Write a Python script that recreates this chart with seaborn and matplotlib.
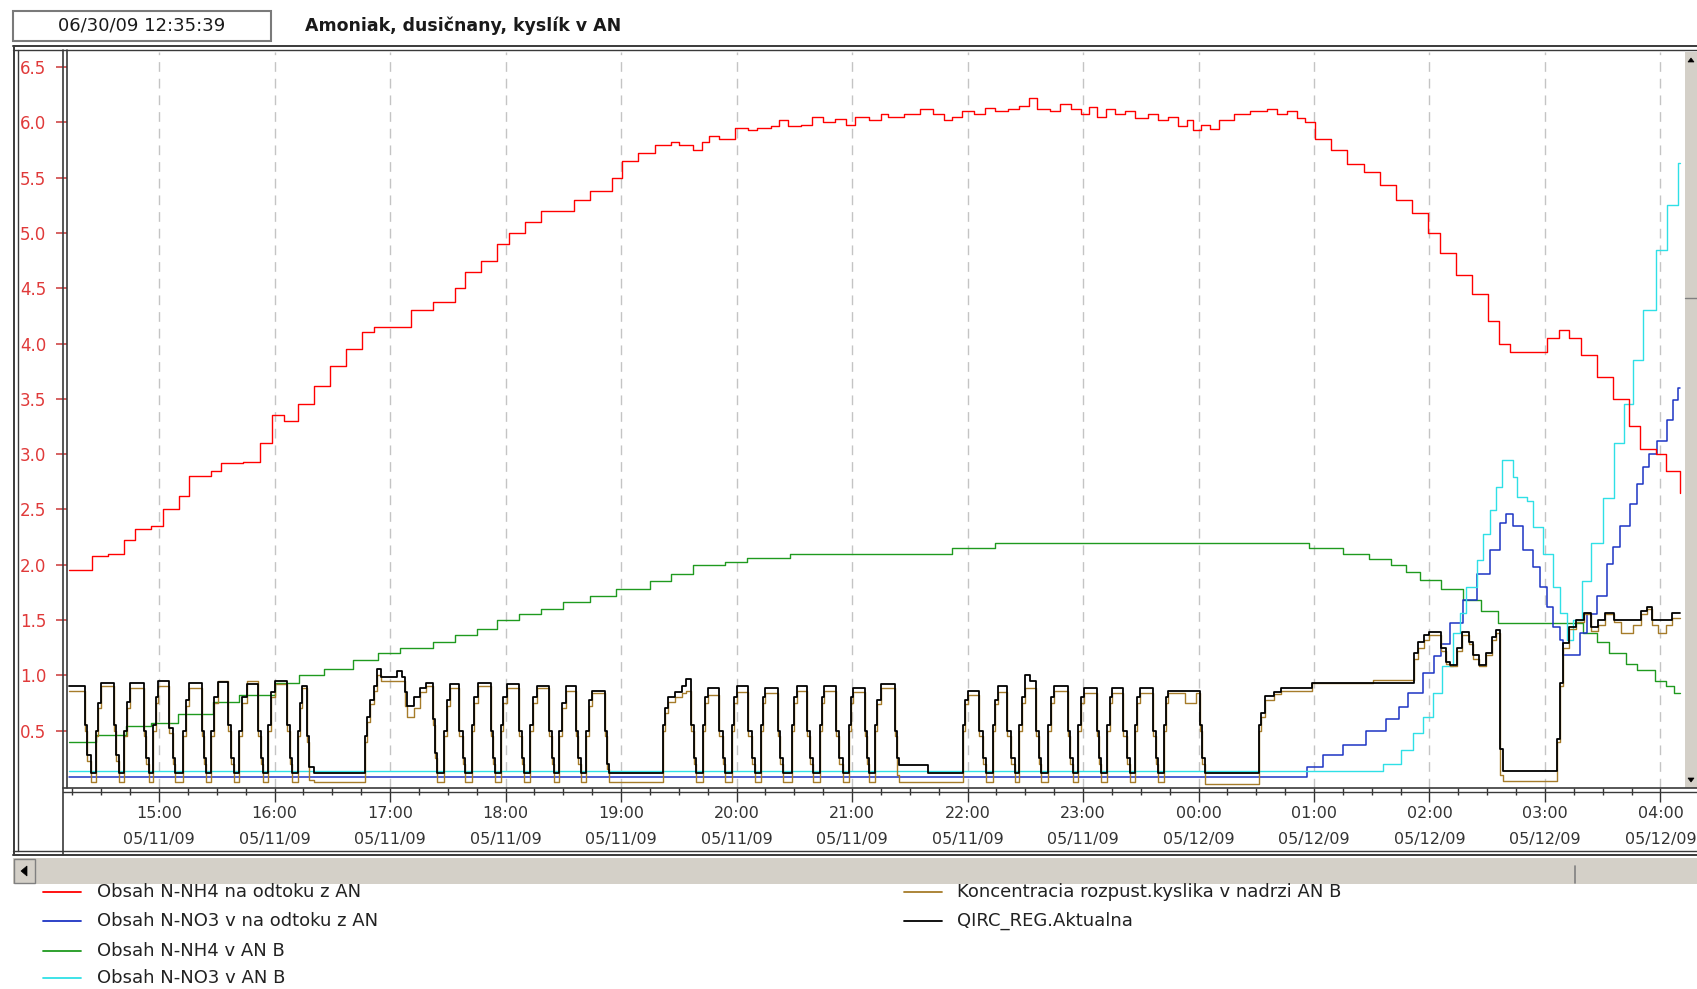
import matplotlib
matplotlib.use("Agg")
import matplotlib.pyplot as plt
from matplotlib.lines import Line2D
from matplotlib.patches import Rectangle, Polygon
import numpy as np
import pandas as pd
import seaborn as sns

# ---------------- data (hours since 2009-05-11 00:00) ----------------
header_time = "06/30/09 12:35:39"
title = "Amoniak, dusičnany, kyslík v AN"

series_names = [
    "Obsah N-NH4 na odtoku z AN",
    "Obsah N-NO3 v na odtoku z AN",
    "Obsah N-NH4 v AN B",
    "Obsah N-NO3 v AN B",
    "Koncentracia rozpust.kyslika v nadrzi AN B",
    "QIRC_REG.Aktualna",
]
series_colors = ["#ff0000", "#1c34c4", "#1f9a1f", "#2fe0e6", "#a67c2a", "#000000"]

nh4_out = [(14.22, 1.95), (14.42, 2.08), (14.56, 2.10), (14.70, 2.22), (14.79, 2.32), (14.93, 2.35),
           (15.03, 2.50), (15.17, 2.62), (15.26, 2.80), (15.45, 2.85), (15.54, 2.92), (15.73, 2.93),
           (15.87, 3.10), (15.98, 3.35), (16.08, 3.30), (16.20, 3.45), (16.34, 3.62), (16.48, 3.80),
           (16.62, 3.95), (16.76, 4.10), (16.86, 4.15), (17.04, 4.15), (17.18, 4.30), (17.37, 4.38),
           (17.56, 4.50), (17.65, 4.65), (17.79, 4.75), (17.93, 4.90), (18.03, 5.00), (18.17, 5.10),
           (18.31, 5.20), (18.45, 5.20), (18.59, 5.30), (18.73, 5.38), (18.92, 5.50), (19.01, 5.65),
           (19.15, 5.72), (19.29, 5.80), (19.43, 5.82), (19.50, 5.80), (19.62, 5.75), (19.70, 5.82),
           (19.76, 5.88), (19.85, 5.85), (19.99, 5.95), (20.10, 5.93), (20.18, 5.95), (20.30, 5.97),
           (20.37, 6.02), (20.45, 5.97), (20.56, 5.98), (20.65, 6.05), (20.75, 6.00), (20.85, 6.03),
           (20.95, 5.98), (21.03, 6.05), (21.15, 6.02), (21.25, 6.08), (21.31, 6.05), (21.45, 6.08),
           (21.59, 6.12), (21.70, 6.08), (21.80, 6.02), (21.87, 6.05), (21.95, 6.10), (22.06, 6.08),
           (22.15, 6.13), (22.24, 6.10), (22.35, 6.12), (22.45, 6.15), (22.53, 6.22), (22.60, 6.12),
           (22.71, 6.10), (22.80, 6.17), (22.90, 6.12), (22.98, 6.08), (23.05, 6.14), (23.12, 6.05),
           (23.20, 6.12), (23.28, 6.08), (23.36, 6.10), (23.45, 6.04), (23.56, 6.08), (23.65, 6.02),
           (23.74, 6.05), (23.82, 5.97), (23.90, 6.02), (23.95, 5.93), (24.02, 5.98), (24.10, 5.94),
           (24.18, 6.02), (24.31, 6.08), (24.45, 6.10), (24.59, 6.12), (24.68, 6.08), (24.77, 6.10),
           (24.85, 6.04), (24.92, 6.00), (25.01, 5.85),
           (25.15, 5.75), (25.29, 5.62), (25.43, 5.55), (25.57, 5.43), (25.71, 5.30), (25.85, 5.18),
           (25.99, 5.00), (26.09, 4.82), (26.23, 4.62), (26.37, 4.45), (26.51, 4.20), (26.60, 4.00),
           (26.70, 3.92), (26.93, 3.92), (27.02, 4.05), (27.12, 4.12), (27.21, 4.05), (27.31, 3.90),
           (27.45, 3.70), (27.59, 3.50), (27.73, 3.25), (27.82, 3.05), (27.96, 3.00), (28.05, 2.85),
           (28.17, 2.65)]

no3_out = [(14.22, 0.08), (24.94, 0.17), (25.08, 0.28), (25.25, 0.37), (25.45, 0.50), (25.62, 0.60),
           (25.74, 0.71), (25.81, 0.84), (25.94, 1.02), (26.04, 1.17), (26.10, 1.28), (26.18, 1.47),
           (26.29, 1.68), (26.41, 1.92), (26.52, 2.13), (26.61, 2.38), (26.66, 2.46), (26.72, 2.35),
           (26.81, 2.13), (26.90, 1.98), (26.96, 1.80), (27.02, 1.62), (27.07, 1.44), (27.13, 1.32),
           (27.16, 1.18), (27.24, 1.18), (27.30, 1.38), (27.36, 1.55), (27.45, 1.72), (27.54, 2.01),
           (27.59, 2.16), (27.65, 2.35), (27.74, 2.55), (27.80, 2.73), (27.85, 2.88), (27.90, 3.00),
           (27.97, 3.12), (28.06, 3.31), (28.11, 3.49), (28.15, 3.60), (28.17, 3.60)]

nh4_b = [(14.22, 0.40), (14.45, 0.46), (14.71, 0.54), (14.93, 0.57), (15.16, 0.65), (15.47, 0.76),
         (15.69, 0.82), (16.00, 0.93), (16.21, 1.00), (16.43, 1.06), (16.68, 1.14), (16.90, 1.20),
         (17.09, 1.25), (17.37, 1.30), (17.56, 1.36), (17.75, 1.42), (17.93, 1.50), (18.12, 1.55),
         (18.31, 1.60), (18.50, 1.66), (18.73, 1.72), (18.96, 1.78), (19.25, 1.85), (19.43, 1.92),
         (19.62, 2.00), (19.90, 2.02), (20.09, 2.06), (20.46, 2.10), (21.87, 2.15), (22.24, 2.20),
         (24.96, 2.15), (25.25, 2.10), (25.48, 2.05), (25.67, 2.00), (25.80, 1.93), (25.92, 1.86),
         (26.10, 1.78), (26.29, 1.68), (26.45, 1.58), (26.59, 1.47), (27.33, 1.38), (27.45, 1.30),
         (27.55, 1.20), (27.70, 1.10), (27.80, 1.05), (27.95, 0.95), (28.05, 0.90), (28.12, 0.84),
         (28.17, 0.84)]

no3_b = [(14.22, 0.13), (25.60, 0.20), (25.75, 0.32), (25.86, 0.48), (25.94, 0.62), (26.03, 0.84),
         (26.11, 1.08), (26.20, 1.38), (26.26, 1.56), (26.32, 1.80), (26.41, 2.04), (26.46, 2.28),
         (26.52, 2.49), (26.58, 2.70), (26.63, 2.95), (26.70, 2.95), (26.72, 2.79), (26.76, 2.61),
         (26.84, 2.58), (26.90, 2.34), (26.98, 2.10), (27.07, 1.80), (27.13, 1.56), (27.19, 1.32),
         (27.24, 1.50), (27.32, 1.85), (27.40, 2.20), (27.50, 2.60), (27.60, 3.10), (27.68, 3.45),
         (27.76, 3.85), (27.85, 4.30), (27.96, 4.85), (28.06, 5.25), (28.15, 5.63), (28.17, 5.63)]

# oxygen (brown) and QIRC (black) share sampling times
do_hours = [
    14.22, 14.36, 14.38, 14.41, 14.45, 14.47, 14.50, 14.61, 14.63, 14.65,
    14.70, 14.72, 14.75, 14.87, 14.89, 14.91, 14.95, 14.97, 14.99, 15.09, 15.12, 15.14,
    15.21, 15.23, 15.26, 15.37, 15.39, 15.41, 15.45, 15.48, 15.51, 15.60, 15.62, 15.65,
    15.69, 15.72, 15.76, 15.86, 15.88, 15.90, 15.94, 15.97, 16.00, 16.11, 16.13, 16.15,
    16.20, 16.22, 16.24, 16.28, 16.30, 16.34,
    16.78, 16.80, 16.83, 16.86, 16.89, 16.92, 17.06, 17.10, 17.13, 17.15, 17.21, 17.26, 17.31,
    17.37, 17.39, 17.41, 17.47, 17.49, 17.52, 17.60, 17.63, 17.65, 17.71, 17.73, 17.76,
    17.87, 17.89, 17.91, 17.96, 17.98, 18.01, 18.12, 18.14, 18.16, 18.21, 18.24, 18.27,
    18.38, 18.40, 18.42, 18.46, 18.49, 18.52, 18.61, 18.63, 18.65, 18.70, 18.72, 18.75,
    18.86, 18.88, 18.90,
    19.36, 19.38, 19.41, 19.47, 19.53, 19.56, 19.61, 19.63, 19.65, 19.71, 19.73, 19.75,
    19.85, 19.88, 19.90, 19.96, 19.98, 20.00, 20.10, 20.13, 20.16, 20.21, 20.23, 20.25,
    20.36, 20.38, 20.40, 20.48, 20.50, 20.52, 20.61, 20.64, 20.66, 20.72, 20.74, 20.76,
    20.86, 20.89, 20.92, 20.97, 20.99, 21.01, 21.11, 21.13, 21.15, 21.20, 21.22, 21.25,
    21.37, 21.39, 21.41, 21.66,
    21.96, 21.98, 22.00, 22.10, 22.13, 22.16, 22.22, 22.24, 22.26, 22.34, 22.38, 22.41,
    22.45, 22.47, 22.50, 22.54, 22.59, 22.62, 22.64, 22.70, 22.72, 22.75, 22.87, 22.89, 22.91,
    22.96, 22.98, 23.01, 23.12, 23.14, 23.16, 23.21, 23.23, 23.25, 23.35, 23.38, 23.41,
    23.45, 23.47, 23.49, 23.61, 23.63, 23.65, 23.70, 23.72, 23.74, 23.88, 23.98, 24.01,
    24.03, 24.06,
    24.52, 24.54, 24.58, 24.65, 24.71, 24.98, 25.51, 25.87, 25.90, 25.95, 26.00, 26.10,
    26.14, 26.18, 26.24, 26.28, 26.34, 26.38, 26.43, 26.49, 26.54, 26.58, 26.61, 26.64,
    27.10, 27.13, 27.16, 27.21, 27.27, 27.34, 27.40, 27.46, 27.52, 27.60, 27.66, 27.76,
    27.83, 27.88, 27.93, 27.98, 28.05, 28.10, 28.17]

qirc_vals = [
    0.90, 0.55, 0.28, 0.12, 0.50, 0.75, 0.93, 0.55, 0.28, 0.12,
    0.50, 0.76, 0.93, 0.50, 0.25, 0.12, 0.55, 0.80, 0.95, 0.52, 0.25, 0.12,
    0.50, 0.78, 0.93, 0.50, 0.25, 0.12, 0.50, 0.80, 0.94, 0.55, 0.25, 0.12,
    0.50, 0.80, 0.92, 0.50, 0.25, 0.12, 0.55, 0.85, 0.95, 0.55, 0.25, 0.12,
    0.50, 0.75, 0.90, 0.45, 0.17, 0.12,
    0.45, 0.62, 0.78, 0.90, 1.06, 0.98, 1.04, 0.98, 0.85, 0.72, 0.80, 0.88, 0.93,
    0.60, 0.30, 0.12, 0.50, 0.78, 0.92, 0.50, 0.25, 0.12, 0.55, 0.80, 0.93,
    0.50, 0.25, 0.12, 0.55, 0.80, 0.92, 0.50, 0.25, 0.12, 0.55, 0.80, 0.90,
    0.50, 0.25, 0.12, 0.50, 0.75, 0.90, 0.50, 0.25, 0.12, 0.50, 0.78, 0.86,
    0.50, 0.20, 0.12,
    0.55, 0.70, 0.80, 0.85, 0.90, 0.97, 0.55, 0.25, 0.12, 0.55, 0.80, 0.88,
    0.50, 0.25, 0.12, 0.55, 0.80, 0.90, 0.50, 0.25, 0.12, 0.55, 0.80, 0.88,
    0.50, 0.25, 0.12, 0.55, 0.80, 0.90, 0.50, 0.25, 0.12, 0.55, 0.80, 0.90,
    0.50, 0.25, 0.12, 0.55, 0.80, 0.88, 0.50, 0.25, 0.12, 0.55, 0.78, 0.92,
    0.50, 0.25, 0.19, 0.12,
    0.55, 0.78, 0.86, 0.50, 0.25, 0.12, 0.55, 0.78, 0.90, 0.50, 0.25, 0.12,
    0.55, 0.80, 1.00, 0.95, 0.50, 0.25, 0.12, 0.55, 0.80, 0.90, 0.50, 0.25, 0.12,
    0.55, 0.80, 0.88, 0.50, 0.25, 0.12, 0.55, 0.80, 0.88, 0.50, 0.25, 0.12,
    0.55, 0.80, 0.88, 0.50, 0.25, 0.12, 0.55, 0.80, 0.86, 0.86, 0.86, 0.55,
    0.25, 0.12,
    0.55, 0.66, 0.81, 0.85, 0.88, 0.93, 0.93, 1.20, 1.30, 1.36, 1.39, 1.25,
    1.12, 1.09, 1.25, 1.39, 1.30, 1.18, 1.09, 1.20, 1.35, 1.41, 0.33, 0.13,
    0.42, 0.93, 1.29, 1.44, 1.50, 1.56, 1.44, 1.50, 1.56, 1.50, 1.50, 1.50,
    1.58, 1.62, 1.50, 1.50, 1.50, 1.56, 1.56]

kyslik_vals = [
    0.86, 0.50, 0.22, 0.03, 0.45, 0.70, 0.90, 0.50, 0.22, 0.03,
    0.45, 0.70, 0.88, 0.45, 0.20, 0.03, 0.50, 0.75, 0.90, 0.48, 0.20, 0.03,
    0.45, 0.72, 0.88, 0.45, 0.20, 0.03, 0.45, 0.75, 0.95, 0.50, 0.20, 0.03,
    0.45, 0.75, 0.95, 0.45, 0.20, 0.03, 0.50, 0.80, 0.92, 0.50, 0.20, 0.03,
    0.45, 0.70, 0.88, 0.40, 0.05, 0.03,
    0.40, 0.58, 0.74, 0.86, 1.00, 0.95, 0.95, 0.95, 0.72, 0.62, 0.70, 0.85, 0.90,
    0.55, 0.25, 0.03, 0.45, 0.72, 0.88, 0.45, 0.20, 0.03, 0.50, 0.75, 0.90,
    0.45, 0.20, 0.03, 0.50, 0.75, 0.88, 0.45, 0.20, 0.03, 0.50, 0.75, 0.88,
    0.45, 0.20, 0.03, 0.45, 0.70, 0.86, 0.45, 0.20, 0.03, 0.45, 0.72, 0.84,
    0.45, 0.15, 0.03,
    0.50, 0.66, 0.76, 0.80, 0.84, 0.86, 0.50, 0.20, 0.03, 0.50, 0.75, 0.82,
    0.45, 0.20, 0.03, 0.50, 0.75, 0.85, 0.45, 0.20, 0.03, 0.50, 0.75, 0.84,
    0.45, 0.20, 0.03, 0.50, 0.75, 0.86, 0.45, 0.20, 0.03, 0.50, 0.75, 0.86,
    0.45, 0.20, 0.03, 0.50, 0.75, 0.85, 0.45, 0.20, 0.03, 0.50, 0.74, 0.88,
    0.45, 0.10, 0.03, 0.03,
    0.50, 0.74, 0.82, 0.45, 0.20, 0.03, 0.50, 0.74, 0.85, 0.45, 0.20, 0.03,
    0.50, 0.75, 0.88, 0.88, 0.45, 0.20, 0.03, 0.50, 0.75, 0.86, 0.45, 0.20, 0.03,
    0.50, 0.75, 0.84, 0.45, 0.20, 0.03, 0.50, 0.75, 0.84, 0.45, 0.20, 0.03,
    0.50, 0.75, 0.84, 0.45, 0.20, 0.03, 0.50, 0.75, 0.84, 0.75, 0.84, 0.50,
    0.20, 0.02,
    0.50, 0.62, 0.78, 0.83, 0.86, 0.93, 0.96, 1.15, 1.25, 1.32, 1.36, 1.22,
    1.10, 1.08, 1.22, 1.36, 1.28, 1.15, 1.08, 1.18, 1.32, 1.38, 0.10, 0.04,
    0.40, 0.90, 1.25, 1.42, 1.48, 1.55, 1.40, 1.45, 1.55, 1.48, 1.38, 1.45,
    1.55, 1.60, 1.45, 1.38, 1.45, 1.52, 1.52]

tick_hours = [15, 16, 17, 18, 19, 20, 21, 22, 23, 24, 25, 26, 27, 28]
tick_labels = ["15:00\n05/11/09", "16:00\n05/11/09", "17:00\n05/11/09", "18:00\n05/11/09",
               "19:00\n05/11/09", "20:00\n05/11/09", "21:00\n05/11/09", "22:00\n05/11/09",
               "23:00\n05/11/09", "00:00\n05/12/09", "01:00\n05/12/09", "02:00\n05/12/09",
               "03:00\n05/12/09", "04:00\n05/12/09"]
ytick_vals = [0.5, 1.0, 1.5, 2.0, 2.5, 3.0, 3.5, 4.0, 4.5, 5.0, 5.5, 6.0, 6.5]
ytick_labels = ["0.5", "1.0", "1.5", "2.0", "2.5", "3.0", "3.5", "4.0", "4.5", "5.0", "5.5", "6.0", "6.5"]

# ---------------- figure ----------------
W, H = 1697, 989
sns.set_style("white")
plt.rcParams['font.family'] = ['DejaVu Sans']

fig = plt.figure(figsize=(W / 100, H / 100), dpi=100)
fig.patch.set_facecolor("white")


def fx(x):
    return x / W


def fy(y):
    return 1 - y / H


ax = fig.add_axes([fx(67), fy(788), (1683 - 67) / W, (788 - 52) / H])
ax.set_facecolor("white")


def draw(pairs, color, lw, z):
    df = pd.DataFrame(pairs, columns=["hour", "value"])
    sns.lineplot(data=df, x="hour", y="value", ax=ax, color=color, linewidth=lw,
                 drawstyle="steps-post", estimator=None, sort=False, zorder=z)


draw(nh4_b, series_colors[2], 1.0, 3)
draw(no3_out, series_colors[1], 1.1, 4)
draw(no3_b, series_colors[3], 1.0, 4)
draw(list(zip(do_hours, kyslik_vals)), series_colors[4], 1.0, 5)
draw(list(zip(do_hours, qirc_vals)), series_colors[5], 1.3, 6)
draw(nh4_out, series_colors[0], 1.0, 7)

ax.set_xlim(14.203, 28.195)
ax.set_ylim(-0.02, 6.637)
ax.set_xlabel("")
ax.set_ylabel("")
for s in ax.spines.values():
    s.set_visible(False)

ax.set_xticks(tick_hours)
ax.set_xticklabels(tick_labels, linespacing=1.9)
ax.set_xticks(np.arange(14.25, 28.2, 0.25), minor=True)
ax.tick_params(axis="x", which="major", length=10, width=1, color="#333333", pad=3,
               labelsize=11.5, labelcolor="#333333", direction="out", bottom=True)
ax.tick_params(axis="x", which="minor", length=5, width=1, color="#333333", bottom=True)
ax.set_yticks(ytick_vals)
ax.set_yticklabels(ytick_labels)
ax.tick_params(axis="y", length=8, width=1.2, color="#d04848", pad=7, labelsize=12,
               labelcolor="#e03a3a", direction="out", left=True)
ax.grid(axis="x", which="major", color="#c4c4c4", linestyle=(0, (7, 5)), linewidth=1)
ax.grid(axis="y", visible=False)
ax.set_axisbelow(True)

# ---------------- frame decorations ----------------
fc = "#3a3a3a"


def hline(y, x0, x1, lw=1.2, c=fc):
    fig.add_artist(Line2D([fx(x0), fx(x1)], [fy(y), fy(y)], transform=fig.transFigure,
                          color=c, lw=lw))


def vline(x, y0, y1, lw=1.2, c=fc):
    fig.add_artist(Line2D([fx(x), fx(x)], [fy(y0), fy(y1)], transform=fig.transFigure,
                          color=c, lw=lw))


def rect(x0, y0, x1, y1, face, edge="none", lw=1.0, z=1):
    fig.add_artist(Rectangle((fx(x0), fy(y1)), (x1 - x0) / W, (y1 - y0) / H,
                             transform=fig.transFigure, facecolor=face, edgecolor=edge,
                             lw=lw, zorder=z))


def tri(pts, c="#000000"):
    fig.add_artist(Polygon([(fx(a), fy(b)) for a, b in pts], closed=True,
                           transform=fig.transFigure, facecolor=c, edgecolor=c, lw=0.5))


# scrollbars
rect(1685, 52, 1697, 788, "#d4d0c8")
hline(298, 1685, 1697, lw=1.0, c="#808080")
tri([(1688, 62), (1694, 62), (1691, 58)])
tri([(1688, 778), (1694, 778), (1691, 782)])
rect(13, 858, 1697, 884, "#d4d0c8")
rect(14, 859, 35, 883, "#d4d0c8", edge="#808080", lw=1.0)
tri([(27, 866), (27, 876), (21, 871)])
vline(1575, 866, 883, lw=1.2, c="#808080")

# chart frame
hline(46, 13, 1697, lw=1.4)
hline(50, 13, 1697, lw=1.0)
vline(14, 46, 855, lw=1.4)
vline(18, 50, 851, lw=1.0)
vline(63, 50, 855, lw=1.2)
vline(67, 50, 788, lw=1.2)
hline(788, 63, 1697, lw=1.2)
hline(792, 63, 1697, lw=1.0)
hline(851, 13, 1697, lw=1.0)
hline(855, 13, 1697, lw=1.4)

# header
rect(13, 11, 271, 41, "white", edge="#7a7a7a", lw=1.5)
fig.text(fx(142), fy(26), header_time, ha="center", va="center", fontsize=13, color="#1a1a1a")
fig.text(fx(305), fy(26), title, ha="left", va="center", fontsize=12.5, fontweight="bold",
         color="#1a1a1a")

# legend
legend_slots = [(43, 97, 892), (43, 97, 921), (43, 97, 951), (43, 97, 978),
                (904, 957, 892), (904, 957, 921)]
for (lx, tx, ly), name, col in zip(legend_slots, series_names, series_colors):
    fig.add_artist(Line2D([fx(lx), fx(lx + 38)], [fy(ly), fy(ly)], transform=fig.transFigure,
                          color=col, lw=1.3))
    fig.text(fx(tx), fy(ly), name, ha="left", va="center", fontsize=13, color="#222222")

fig.savefig("out.png", dpi=100, facecolor="white")
